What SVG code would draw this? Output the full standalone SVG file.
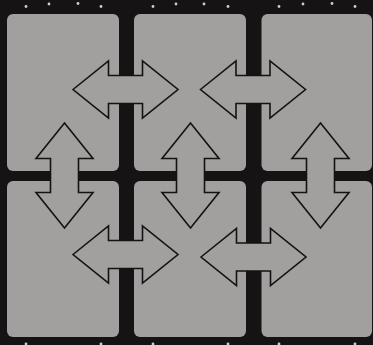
<svg xmlns="http://www.w3.org/2000/svg" xmlns:xlink="http://www.w3.org/1999/xlink" width="373" height="345" viewBox="0 0 373 345">
  <style>
    .panel { fill: #a29f9f; }
    .arrow { fill: #a29f9f; stroke: #141212; stroke-width: 1.6; stroke-linejoin: miter; }
    .dot { fill: #d0cdcd; }
  </style>
  <defs>
    <path id="darrow" d="M-52.5,0 L-17,-28.5 L-17,-14 L17,-14 L17,-28.5 L52.5,0 L17,28.5 L17,14 L-17,14 L-17,28.5 Z"/>
  </defs>
  <rect x="0" y="0" width="373" height="345" fill="#151313"/>
  <g id="perforations">
    <circle class="dot" cx="26" cy="6.5" r="1.4"/>
    <circle class="dot" cx="49" cy="4" r="1.4"/>
    <circle class="dot" cx="78" cy="3.5" r="1.4"/>
    <circle class="dot" cx="101" cy="6.5" r="1.4"/>
    <circle class="dot" cx="153" cy="6.5" r="1.4"/>
    <circle class="dot" cx="176" cy="4" r="1.4"/>
    <circle class="dot" cx="204" cy="4" r="1.4"/>
    <circle class="dot" cx="228" cy="6.5" r="1.4"/>
    <circle class="dot" cx="279" cy="6.5" r="1.4"/>
    <circle class="dot" cx="303" cy="4" r="1.4"/>
    <circle class="dot" cx="332" cy="3.5" r="1.4"/>
    <circle class="dot" cx="355" cy="6.5" r="1.4"/>
    <circle class="dot" cx="26" cy="344" r="1.4"/>
    <circle class="dot" cx="101" cy="344" r="1.4"/>
    <circle class="dot" cx="153" cy="344" r="1.4"/>
    <circle class="dot" cx="228" cy="344" r="1.4"/>
    <circle class="dot" cx="279" cy="344" r="1.4"/>
    <circle class="dot" cx="355" cy="344" r="1.4"/>
  </g>
  <g id="panel-top-left"><rect class="panel" x="7" y="14" width="112" height="157" rx="6"/></g>
  <g id="panel-top-middle"><rect class="panel" x="134" y="14" width="112" height="157" rx="6"/></g>
  <g id="panel-top-right"><rect class="panel" x="261.5" y="14" width="110.5" height="157" rx="6"/></g>
  <g id="panel-bottom-left"><rect class="panel" x="7" y="181" width="112" height="156" rx="6"/></g>
  <g id="panel-bottom-middle"><rect class="panel" x="134" y="181" width="112" height="156" rx="6"/></g>
  <g id="panel-bottom-right"><rect class="panel" x="261.5" y="181" width="110.5" height="156" rx="6"/></g>
  <g id="connectors">
    <use xlink:href="#darrow" href="#darrow" class="arrow" transform="translate(125.5,89.5)"/>
    <use xlink:href="#darrow" href="#darrow" class="arrow" transform="translate(253,89.5)"/>
    <use xlink:href="#darrow" href="#darrow" class="arrow" transform="translate(125.5,254.5)"/>
    <use xlink:href="#darrow" href="#darrow" class="arrow" transform="translate(253.5,257)"/>
    <use xlink:href="#darrow" href="#darrow" class="arrow" transform="translate(64.5,175.5) rotate(90)"/>
    <use xlink:href="#darrow" href="#darrow" class="arrow" transform="translate(190.5,175.5) rotate(90)"/>
    <use xlink:href="#darrow" href="#darrow" class="arrow" transform="translate(320.5,175.5) rotate(90)"/>
  </g>
</svg>
